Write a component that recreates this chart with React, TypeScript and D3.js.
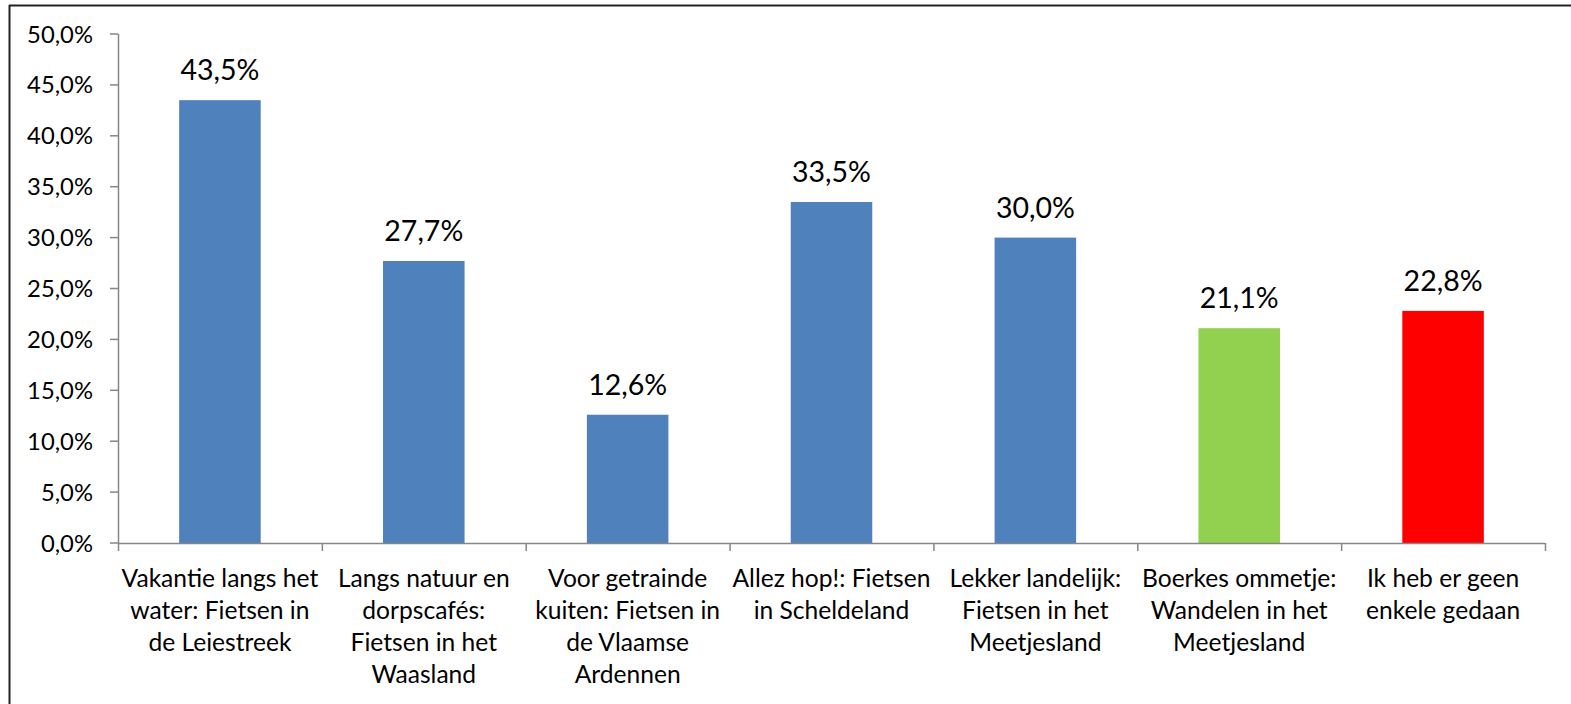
import React from 'react';
import * as d3 from 'd3';

// categories (already wrapped the way the original chart wraps them)
const categories: string[][] = [
  ['Vakantie langs het', 'water: Fietsen in', 'de Leiestreek'],
  ['Langs natuur en', 'dorpscafés:', 'Fietsen in het', 'Waasland'],
  ['Voor getrainde', 'kuiten: Fietsen in', 'de Vlaamse', 'Ardennen'],
  ['Allez hop!: Fietsen', 'in Scheldeland'],
  ['Lekker landelijk:', 'Fietsen in het', 'Meetjesland'],
  ['Boerkes ommetje:', 'Wandelen in het', 'Meetjesland'],
  ['Ik heb er geen', 'enkele gedaan'],
];
const values: number[] = [43.5, 27.7, 12.6, 33.5, 30.0, 21.1, 22.8];
const barColors: string[] = ['#4F81BD', '#4F81BD', '#4F81BD', '#4F81BD', '#4F81BD', '#92D050', '#FF0000'];
const yTicks: number[] = [0, 5, 10, 15, 20, 25, 30, 35, 40, 45, 50];

const W = 1571;
const H = 704;
const FONT = 'Lato, Carlito, Calibri, sans-serif';

const fmt = (v: number) => v.toFixed(1).replace('.', ',') + '%';

export default function App() {
  const left = 118;
  const right = 1545;
  const top = 34;
  const bottom = 543;

  const x = d3.scaleBand<number>()
    .domain(values.map((_, i) => i))
    .range([left, right])
    .paddingInner(0.6)
    .paddingOuter(0.3);

  const y = d3.scaleLinear().domain([0, 50]).range([bottom, top]);

  const step = (right - left) / values.length;
  const catTicks = d3.range(values.length + 1).map(i => left + i * step);

  return (
    <svg width={W} height={H} style={{position: 'absolute', left: 0, top: 0}} fontFamily={FONT}>
      <rect x={0} y={0} width={W} height={H} fill="#fff"/>
      {/* frame */}
      <line x1={9.5} y1={5} x2={9.5} y2={H} stroke="#222" strokeWidth={2}/>
      <line x1={9} y1={5.5} x2={W} y2={5.5} stroke="#222" strokeWidth={2}/>

      {/* y axis */}
      <line x1={left + 0.5} y1={y(50)} x2={left + 0.5} y2={bottom} stroke="#868686" strokeWidth={1.5}/>
      {yTicks.map(t => (
        <g key={t}>
          <line x1={110} x2={left} y1={y(t)} y2={y(t)} stroke="#868686" strokeWidth={1.5}/>
          <text x={93} y={y(t)} dy="0.36em" textAnchor="end" fontSize={23.8} fill="#000">{fmt(t)}</text>
        </g>
      ))}

      {/* bars */}
      {values.map((v, i) => (
        <g key={i}>
          <rect x={x(i)} y={y(v)} width={x.bandwidth()} height={bottom - y(v)} fill={barColors[i]}/>
          <text x={(x(i) as number) + x.bandwidth() / 2} y={y(v) - 20} textAnchor="middle" fontSize={28.5} fill="#000">{fmt(v)}</text>
        </g>
      ))}

      {/* x axis */}
      <line x1={left} x2={right} y1={bottom + 0.5} y2={bottom + 0.5} stroke="#868686" strokeWidth={1.5}/>
      {catTicks.map((cx, i) => (
        <line key={i} x1={cx + 0.5} x2={cx + 0.5} y1={bottom} y2={bottom + 8} stroke="#868686" strokeWidth={1.5}/>
      ))}
      {categories.map((lines, i) => (
        <text key={i} textAnchor="middle" fontSize={24.6} fill="#000">
          {lines.map((ln, j) => (
            <tspan key={j} x={left + (i + 0.5) * step} y={587 + j * 32}>{ln}</tspan>
          ))}
        </text>
      ))}
    </svg>
  );
}
